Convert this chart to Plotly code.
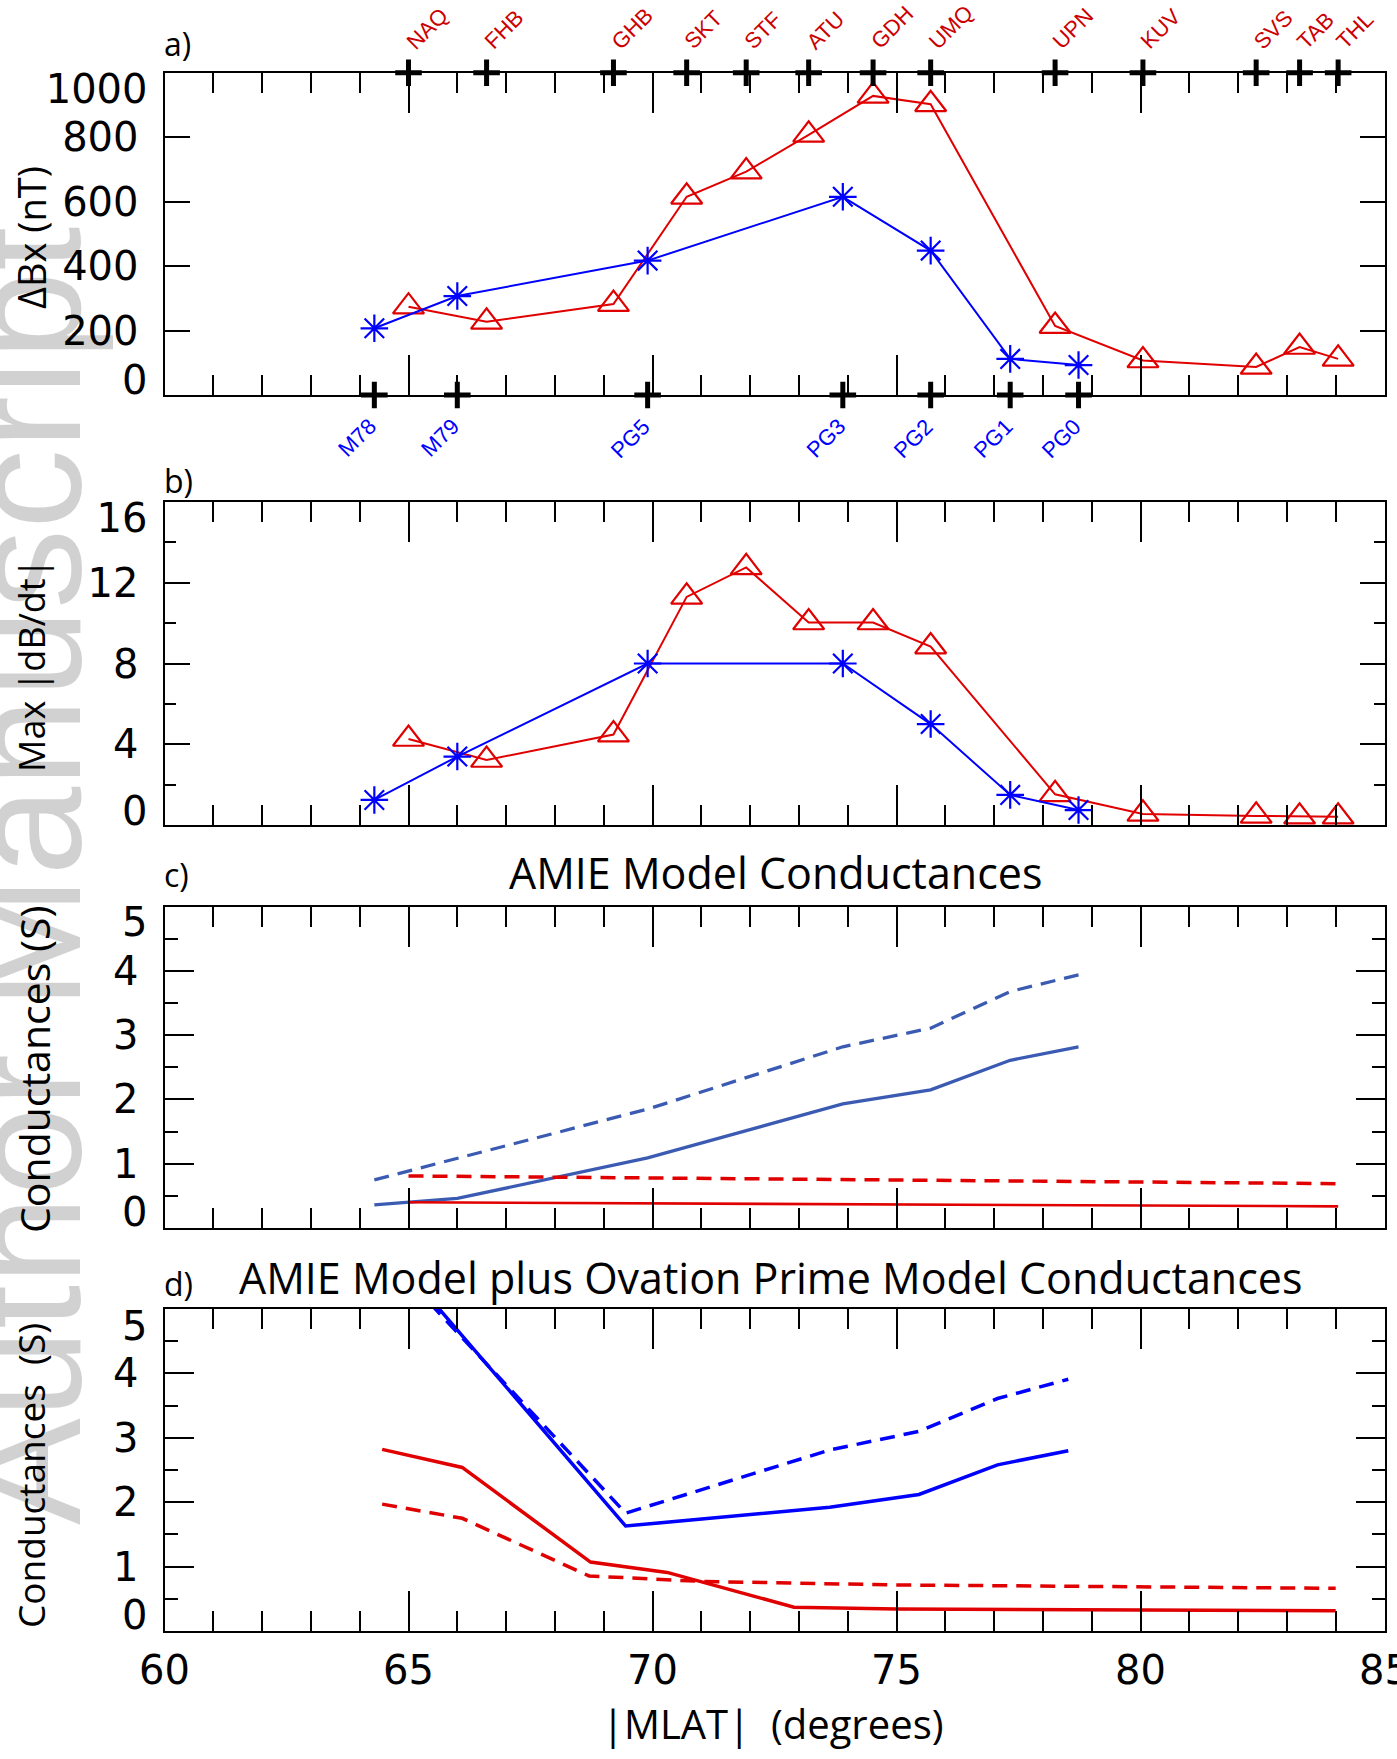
import plotly.graph_objects as go

W, H = 1397, 1759

# ---------------- data ----------------
red_stations = ["NAQ", "FHB", "GHB", "SKT", "STF", "ATU", "GDH", "UMQ", "UPN", "KUV", "SVS", "TAB", "THL"]
red_lat = [65.0, 66.6, 69.2, 70.7, 71.92, 73.2, 74.52, 75.7, 78.25, 80.05, 82.37, 83.26, 84.05]
blue_stations = ["M78", "M79", "PG5", "PG3", "PG2", "PG1", "PG0"]
blue_lat = [64.3, 66.0, 69.9, 73.9, 75.7, 77.33, 78.73]

# a) Delta Bx (nT)
dbx_red = [274, 227, 282, 615, 693, 807, 928, 902, 214, 107, 87, 149, 112]
dbx_blue = [207, 307, 417, 615, 448, 112, 93]

# b) Max |dB/dt|
dbdt_red = [4.26, 3.22, 4.48, 11.3, 12.76, 10.03, 10.03, 8.84, 1.52, 0.55, 0.45, 0.41, 0.41]
dbdt_blue = [1.24, 3.39, 8.0, 8.0, 5.0, 1.49, 0.74]

# c) AMIE model conductances
c_blue_solid = [0.36, 0.46, 1.09, 1.93, 2.15, 2.61, 2.82]
c_blue_dash = [0.75, 1.08, 1.85, 2.82, 3.11, 3.68, 3.94]
c_red_solid = [0.40, 0.395, 0.385, 0.378, 0.373, 0.368, 0.363, 0.36, 0.352, 0.347, 0.342, 0.339, 0.337]
c_red_dash = [0.81, 0.80, 0.785, 0.777, 0.77, 0.76, 0.75, 0.74, 0.725, 0.71, 0.70, 0.695, 0.69]

# d) AMIE + Ovation Prime conductances
d_blue_lat = [64.1, 69.45, 73.63, 75.46, 77.07, 78.52]
d_blue_solid = [6.35, 1.63, 1.92, 2.12, 2.58, 2.80]
d_blue_dash = [6.18, 1.83, 2.81, 3.10, 3.61, 3.91]
d_red_lat = [64.46, 66.1, 68.73, 70.3, 72.9, 75.0, 80.0, 84.0]
d_red_solid = [2.82, 2.54, 1.07, 0.91, 0.37, 0.342, 0.326, 0.316]
d_red_dash_lat = [64.46, 66.1, 68.7, 71.0, 75.0, 80.0, 84.0]
d_red_dash = [1.97, 1.75, 0.855, 0.77, 0.715, 0.68, 0.663]

x_ticks = [60, 65, 70, 75, 80, 85]
ya_ticks = [0, 200, 400, 600, 800, 1000]
yb_ticks = [0, 4, 8, 12, 16]
yc_ticks = [0, 1, 2, 3, 4, 5]

# ---------------- styles ----------------
RED = "#E00000"
RED_TXT = "#CC0000"
BLUE = "#0000FF"
STEEL = "#3B5BB3"
TICK_FONT = dict(family="DejaVu Sans", size=40, color="black")
TXT_FONT = "Open Sans"


def px_x(p):
    return p / W


def px_y(p):
    return 1 - p / H


X0, X1 = 164.5, 1384.5
panels = {  # top, bottom in pixels
    "a": (72.7, 395.0),
    "b": (502.0, 825.0),
    "c": (906.7, 1228.0),
    "d": (1309.0, 1631.0),
}

fig = go.Figure()


def add_line(x, y, color, width, dash, xa, ya):
    fig.add_trace(go.Scatter(x=x, y=y, mode="lines", xaxis=xa, yaxis=ya,
                             line=dict(color=color, width=width, dash=dash),
                             showlegend=False, hoverinfo="skip"))


def add_markers_line(x, y, color, symbol, size, xa, ya):
    fig.add_trace(go.Scatter(x=x, y=y, mode="lines+markers", xaxis=xa, yaxis=ya,
                             line=dict(color=color, width=2),
                             marker=dict(symbol=symbol, size=size, color=color,
                                         line=dict(color=color, width=2.2)),
                             cliponaxis=False, showlegend=False))


# panel a
add_markers_line(red_lat, dbx_red, RED, "triangle-up-open", 27, "x", "y")
add_markers_line(blue_lat, dbx_blue, BLUE, "asterisk-open", 23, "x", "y")
# station crosses on top/bottom axes
fig.add_trace(go.Scatter(x=red_lat, y=[ya_ticks[-1]] * len(red_lat), mode="markers", xaxis="x", yaxis="y",
                         marker=dict(symbol="cross-thin-open", size=19, color="black",
                                     line=dict(color="black", width=5)),
                         cliponaxis=False, showlegend=False))
fig.add_trace(go.Scatter(x=blue_lat, y=[ya_ticks[0]] * len(blue_lat), mode="markers", xaxis="x", yaxis="y",
                         marker=dict(symbol="cross-thin-open", size=19, color="black",
                                     line=dict(color="black", width=5)),
                         cliponaxis=False, showlegend=False))

# panel b
add_markers_line(red_lat, dbdt_red, RED, "triangle-up-open", 27, "x2", "y2")
add_markers_line(blue_lat, dbdt_blue, BLUE, "asterisk-open", 23, "x2", "y2")

# panel c
add_line(blue_lat, c_blue_dash, STEEL, 3.3, "15px,9px", "x3", "y3")
add_line(blue_lat, c_blue_solid, STEEL, 3.3, "solid", "x3", "y3")
add_line(red_lat, c_red_dash, RED, 3.5, "15px,9px", "x3", "y3")
add_line(red_lat, c_red_solid, RED, 2.6, "solid", "x3", "y3")

# panel d
add_line(d_blue_lat, d_blue_dash, BLUE, 3.5, "15px,9px", "x4", "y4")
add_line(d_blue_lat, d_blue_solid, BLUE, 3.5, "solid", "x4", "y4")
add_line(d_red_dash_lat, d_red_dash, RED, 3.5, "15px,9px", "x4", "y4")
add_line(d_red_lat, d_red_solid, RED, 3.5, "solid", "x4", "y4")


# ---------------- axes ----------------
def xaxis(ref_y, show_labels):
    return dict(domain=[px_x(X0), px_x(X1)], range=[60, 85], anchor=ref_y, automargin=False,
                tickvals=x_ticks, ticks="inside", ticklen=40, tickwidth=2, tickcolor="black",
                minor=dict(ticks="inside", dtick=1, tick0=60, ticklen=20, tickwidth=2, tickcolor="black"),
                showline=True, linewidth=2, linecolor="black", mirror="ticks",
                showgrid=False, zeroline=False, showticklabels=show_labels,
                ticklabeloverflow="allow",
                tickfont=TICK_FONT, ticklabelstandoff=3, fixedrange=True)


def yaxis(key, ref_x, tickvals, ticklen, minor_dtick=None, minor_len=0):
    top, bot = panels[key]
    rng = [tickvals[0], tickvals[-1]]
    d = dict(domain=[px_y(bot), px_y(top)], range=rng, anchor=ref_x, automargin=False,
             tickvals=tickvals, ticktext=[""] + [str(v) for v in tickvals[1:-1]] + [""],
             ticks="inside", ticklen=ticklen, tickwidth=2, tickcolor="black",
             showline=True, linewidth=2, linecolor="black", mirror="ticks",
             showgrid=False, zeroline=False, tickfont=TICK_FONT, ticklabelstandoff=16,
             fixedrange=True)
    if minor_dtick:
        d["minor"] = dict(ticks="inside", dtick=minor_dtick, tick0=0, ticklen=minor_len,
                          tickwidth=2, tickcolor="black")
    return d


def yedge(main_id, ref_x, key, tickvals, which, shift):
    # IDL-style end labels pulled inside the axis range (positive shift = downward on screen)
    top, bot = panels[key]
    v = tickvals[0] if which == "low" else tickvals[-1]
    return dict(domain=[px_y(bot), px_y(top)], range=[tickvals[0], tickvals[-1]], anchor=ref_x,
                overlaying=main_id, side="left", automargin=False,
                tickvals=[v], ticktext=[str(v)], ticks="", showline=False, showgrid=False,
                zeroline=False, tickfont=TICK_FONT, ticklabelstandoff=16, ticklabelshift=shift,
                fixedrange=True)


edge_specs = [  # (axis id, main axis, x axis, panel, ticks, which, shift)
    ("y5", "y", "x", "a", ya_ticks, "low", -15),
    ("y6", "y", "x", "a", ya_ticks, "high", 16),
    ("y7", "y2", "x2", "b", yb_ticks, "low", -14),
    ("y8", "y2", "x2", "b", yb_ticks, "high", 16),
    ("y9", "y3", "x3", "c", yc_ticks, "low", -16),
    ("y10", "y3", "x3", "c", yc_ticks, "high", 15),
    ("y11", "y4", "x4", "d", yc_ticks, "low", -16),
    ("y12", "y4", "x4", "d", yc_ticks, "high", 17),
]

layout_axes = dict(
    xaxis=xaxis("y", False),
    xaxis2=xaxis("y2", False),
    xaxis3=xaxis("y3", False),
    xaxis4=xaxis("y4", True),
    yaxis=yaxis("a", "x", ya_ticks, 25),
    yaxis2=yaxis("b", "x2", yb_ticks, 25, 2, 11),
    yaxis3=yaxis("c", "x3", yc_ticks, 29, 0.5, 13),
    yaxis4=yaxis("d", "x4", yc_ticks, 29, 0.5, 13),
)
for aid, main, xa, key, tv, which, shift in edge_specs:
    layout_axes["yaxis" + aid[1:]] = yedge(main, xa, key, tv, which, shift)
    # invisible carrier trace so the overlay axis is rendered
    fig.add_trace(go.Scatter(x=[x_ticks[0]], y=[tv[0] if which == "low" else tv[-1]],
                             xaxis=xa, yaxis=aid, mode="markers",
                             marker=dict(opacity=0, size=1), showlegend=False, hoverinfo="skip"))

fig.update_layout(
    width=W, height=H, margin=dict(l=0, r=0, t=0, b=0, autoexpand=False),
    paper_bgcolor="white", plot_bgcolor="white", showlegend=False,
    **layout_axes,
)

ann = []
# watermark (semi-transparent so it reads as an underlay)
ann.append(dict(text="Author Manuscript", x=px_x(24), y=px_y(876), xref="paper", yref="paper",
                xanchor="center", yanchor="middle", textangle=-90, showarrow=False,
                font=dict(family="Liberation Sans", size=160, color="rgba(0,0,0,0.18)")))

# station labels
for name, lat in zip(red_stations, red_lat):
    ann.append(dict(text=name, x=lat, y=px_y(panels["a"][0] - 16), xref="x", yref="paper",
                    xanchor="left", yanchor="bottom", xshift=-10, textangle=-45, showarrow=False,
                    font=dict(family="Liberation Sans", size=22, color=RED_TXT)))
for name, lat in zip(blue_stations, blue_lat):
    ann.append(dict(text=name, x=lat, y=px_y(panels["a"][1] + 16), xref="x", yref="paper",
                    xanchor="right", yanchor="top", xshift=10, textangle=-45, showarrow=False,
                    font=dict(family="Liberation Sans", size=22, color=BLUE)))

# panel letters
for lab, cy in [("a)", 44), ("b)", 480), ("c)", 875), ("d)", 1283)]:
    ann.append(dict(text=lab, x=px_x(162), y=px_y(cy), xref="paper", yref="paper",
                    xanchor="left", yanchor="middle", showarrow=False,
                    font=dict(family=TXT_FONT, size=32, color="black")))

# panel titles
ann.append(dict(text="AMIE Model Conductances", x=px_x(775), y=px_y(873), xref="paper", yref="paper",
                xanchor="center", yanchor="middle", showarrow=False,
                font=dict(family=TXT_FONT, size=43, color="black")))
ann.append(dict(text="AMIE Model plus Ovation Prime Model Conductances", x=px_x(771), y=px_y(1277),
                xref="paper", yref="paper", xanchor="center", yanchor="middle", showarrow=False,
                font=dict(family=TXT_FONT, size=43, color="black")))

# y-axis titles
for txt, cx, cy, fs in [("ΔBx (nT)", 31, 238, 38), ("Max |dB/dt|", 31, 666, 36),
                        ("Conductances (S)", 34, 1069, 41), ("Conductances  (S)", 30, 1476, 37)]:
    ann.append(dict(text=txt, x=px_x(cx), y=px_y(cy), xref="paper", yref="paper",
                    xanchor="center", yanchor="middle", textangle=-90, showarrow=False,
                    font=dict(family=TXT_FONT, size=fs, color="black")))

# x-axis title
ann.append(dict(text="|MLAT|  (degrees)", x=px_x(773), y=px_y(1723), xref="paper", yref="paper",
                xanchor="center", yanchor="middle", showarrow=False,
                font=dict(family=TXT_FONT, size=40, color="black")))

fig.update_layout(annotations=ann)

fig.write_html("out.html")
